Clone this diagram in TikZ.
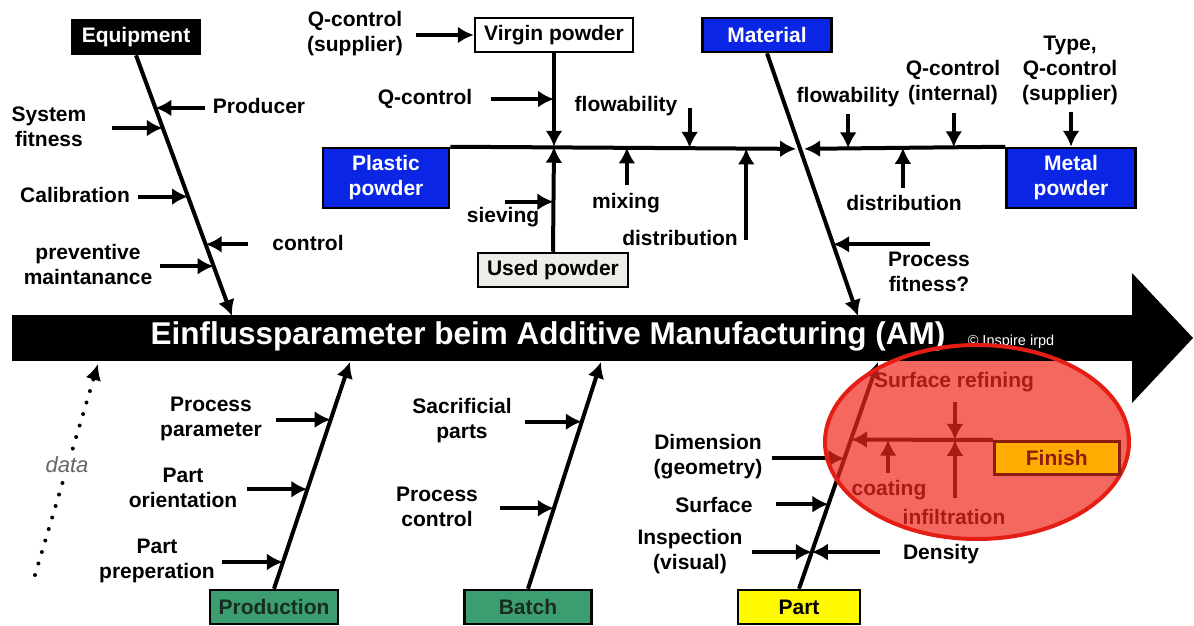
\documentclass[tikz,border=0pt]{standalone}
\usepackage{fontspec}
\setmainfont{Liberation Sans}
\usetikzlibrary{arrows.meta,calc}

\definecolor{catblue}{RGB}{10,38,228}
\definecolor{catgreen}{RGB}{60,158,112}
\definecolor{catyellow}{RGB}{255,250,0}
\definecolor{catgold}{RGB}{255,172,0}
\definecolor{usedgray}{RGB}{238,238,232}
\definecolor{ovalfill}{RGB}{240,40,28}
\definecolor{ovalline}{RGB}{228,30,20}
\definecolor{finred}{RGB}{140,28,14}
\definecolor{catink}{RGB}{24,44,34}

\tikzset{
  lbl/.style={font=\fontsize{21}{25}\selectfont\bfseries, align=center, inner sep=0pt},
  cat/.style={draw=black, line width=2.5pt, inner sep=0pt, minimum height=34pt,
    font=\fontsize{21}{25}\selectfont\bfseries, align=center},
  bone/.style={line width=4pt, -{Latex[length=16pt,width=17pt]}},
  feed/.style={line width=4pt, {Latex[length=16pt,width=17pt]}-},
}

\begin{document}
\begin{tikzpicture}[x=1pt,y=-1pt]
  \useasboundingbox (0,0) rectangle (1194,626);

  \node[cat, fill=black, text=white, minimum width=128pt] (equip) at (136,37) {Equipment};
  \node[cat, fill=white, minimum width=158pt] (virgin) at (554,35) {Virgin powder};
  \node[cat, fill=catblue, text=white, minimum width=129pt] (material) at (767,35) {Material};
  \node[cat, fill=catblue, text=white, minimum width=126pt, minimum height=60pt] (plastic) at (386,178) {Plastic\\powder};
  \node[cat, fill=catblue, text=white, minimum width=129pt, minimum height=60pt] (metal) at (1071,178) {Metal\\powder};
  \node[cat, fill=usedgray, minimum width=150pt] (used) at (553,270) {Used powder};
  \node[cat, fill=catgreen, text=catink, minimum width=128pt] (production) at (274,607) {Production};
  \node[cat, fill=catgreen, text=catink, minimum width=127pt] (batch) at (528,607) {Batch};
  \node[cat, fill=catyellow, minimum width=122pt] (part) at (799,607) {Part};

  \coordinate (eqB) at (232,316);
  \coordinate (mtB) at (858,316);
  \coordinate (prB) at (350,362);
  \coordinate (btB) at (601,362);
  \coordinate (ptB) at (878,362);
  \coordinate (mix) at (virgin.south |- plastic.north);
  \coordinate (cross) at ($(material.south)!0.364!(mtB)$);
  \coordinate (fjoint) at ($(part.north)!0.658!(ptB)$);
  \coordinate (finNW) at (993,440);
  \coordinate (oval) at (977,442);

  \draw[bone] (equip.south) -- (eqB);
  \draw[bone] (material.south) -- (mtB);
  \draw[bone] (production.north) -- (prB);
  \draw[bone] (batch.north) -- (btB);
  \draw[bone] (part.north) -- (ptB);
  \draw[bone] (virgin.south) -- (mix);
  \draw[bone] (used.north) -- (mix);
  \draw[bone, shorten >=4pt] (plastic.north east) -- (cross);
  \draw[bone, shorten >=4pt] (metal.north west) -- (cross);
  \draw[bone] (finNW) -- (fjoint);

  \node[lbl] (producer) at (259,106) {Producer};
  \node[lbl] (sysfit) at (49,127) {System\\fitness};
  \node[lbl] (calib) at (75,195) {Calibration};
  \node[lbl] (ctrl) at (308,243) {control};
  \node[lbl] (prevmaint) at (88,264) {preventive\\maintanance};
  \draw[feed] ($(equip.south)!0.202!(eqB)$) -- ++(50,0);
  \draw[feed] ($(equip.south)!0.279!(eqB)$) -- ++(-51,0);
  \draw[feed] ($(equip.south)!0.542!(eqB)$) -- ++(-50,0);
  \draw[feed] ($(equip.south)!0.725!(eqB)$) -- ++(42,0);
  \draw[feed] ($(equip.south)!0.809!(eqB)$) -- ++(-54,0);

  \node[lbl] (qsupp) at (355,34) {Q-control\\(supplier)};
  \node[lbl] (qctrl) at (425,99) {Q-control};
  \node[lbl] (flowP) at (626,106) {flowability};
  \node[lbl] (sieving) at (503,217) {sieving};
  \node[lbl] (mixing) at (626,203) {mixing};
  \node[lbl] (distP) at (680,238) {distribution};
  \draw[feed] (virgin.west) -- ++(-58,0);
  \draw[feed] ($(virgin.south)!0.49!(mix)$) -- ++(-63,0);
  \draw[feed] ($(mix)!0.524!(used.north)$) -- ++(-48,0);
  \draw[feed] ($(mix)!0.551!(cross)$) -- ++(0,-40);
  \draw[feed] ($(mix)!0.296!(cross)$) -- ++(0,38);
  \draw[feed] ($(mix)!0.781!(cross)$) -- ++(0,92);

  \node[lbl] (flowM) at (848,97) {flowability};
  \node[lbl] (qint) at (953,83) {Q-control\\(internal)};
  \node[lbl] (qtype) at (1070,70) {Type,\\Q-control\\(supplier)};
  \node[lbl] (distM) at (904,203) {distribution};
  \node[lbl] (procfit) at (929,272) {Process\\fitness?};
  \draw[feed] ($(cross)!0.234!(metal.north west)$) -- ++(0,-34);
  \draw[feed] ($(cross)!0.749!(metal.north west)$) -- ++(0,-34);
  \draw[feed] (metal.north) -- ++(0,-35);
  \draw[feed] ($(cross)!0.501!(metal.north west)$) -- ++(0,40);
  \draw[feed] ($(material.south)!0.727!(mtB)$) -- ++(97,0);

  \node[lbl] (procpar) at (211,419) {Process\\parameter};
  \node[lbl] (partor) at (183,488) {Part\\orientation};
  \node[lbl] (partprep) at (157,561) {Part\\preperation};
  \draw[feed] ($(production.north)!0.746!(prB)$) -- ++(-55,0);
  \draw[feed] ($(production.north)!0.439!(prB)$) -- ++(-60,0);
  \draw[feed] ($(production.north)!0.118!(prB)$) -- ++(-61,0);

  \node[lbl] (sacpart) at (462,421) {Sacrificial\\parts};
  \node[lbl] (procctrl) at (437,507) {Process\\control};
  \draw[feed] ($(batch.north)!0.737!(btB)$) -- ++(-57,0);
  \draw[feed] ($(batch.north)!0.355!(btB)$) -- ++(-54,0);

  \node[lbl] (dimension) at (708,457) {Dimension\\(geometry)};
  \node[lbl] (surface) at (714,505) {Surface};
  \node[lbl] (inspect) at (690,552) {Inspection\\(visual)};
  \node[lbl] (density) at (941,554) {Density};
  \draw[feed] ($(part.north)!0.575!(ptB)$) -- ++(-72,0);
  \draw[feed] ($(part.north)!0.373!(ptB)$) -- ++(-52,0);
  \draw[feed] ($(part.north)!0.162!(ptB)$) -- ++(-60,0);
  \draw[feed] ($(part.north)!0.162!(ptB)$) -- ++(68,0);

  \node[lbl] (surfref) at (954,382) {Surface refining};
  \node[lbl] (coating) at (889,490) {coating};
  \node[lbl] (infiltr) at (954,517) {infiltration};
  \draw[feed] ($(fjoint)!0.732!(finNW)$) -- ++(0,-38);
  \draw[feed] ($(fjoint)!0.261!(finNW)$) -- ++(0,33);
  \draw[feed] ($(fjoint)!0.732!(finNW)$) -- ++(0,58);

  \draw[line width=4pt, dash pattern=on 0pt off 12pt, line cap=round,
    -{Latex[length=16pt,width=16pt]}] (35,575) coordinate (dataA) -- (98,364) coordinate (dataB);
  \node[font=\fontsize{22}{24}\selectfont\itshape, text=black!60, fill=white, inner sep=2pt] (data) at (67,465) {data};

  \fill[ovalfill, fill opacity=0.7] (oval) ellipse [x radius=152, y radius=97];

  \fill (12,315) rectangle (1133,361);
  \fill (1132,273) -- (1193,338) -- (1132,403) -- cycle;
  \node[font=\fontsize{31.5}{33}\selectfont\bfseries, text=white] (title) at (548,336) {Einflussparameter beim Additive Manufacturing (AM)};
  \node[font=\fontsize{14.5}{16}\selectfont, text=white] (copy) at (1011,342) {\textcopyright{} Inspire irpd};

  \draw[ovalline, line width=4pt] (oval) ellipse [x radius=152, y radius=97];
  \node[cat, fill=catgold, draw=finred, text=finred, minimum width=125pt, minimum height=33pt, anchor=north west] (finish) at (finNW) {Finish};
\end{tikzpicture}
\end{document}
